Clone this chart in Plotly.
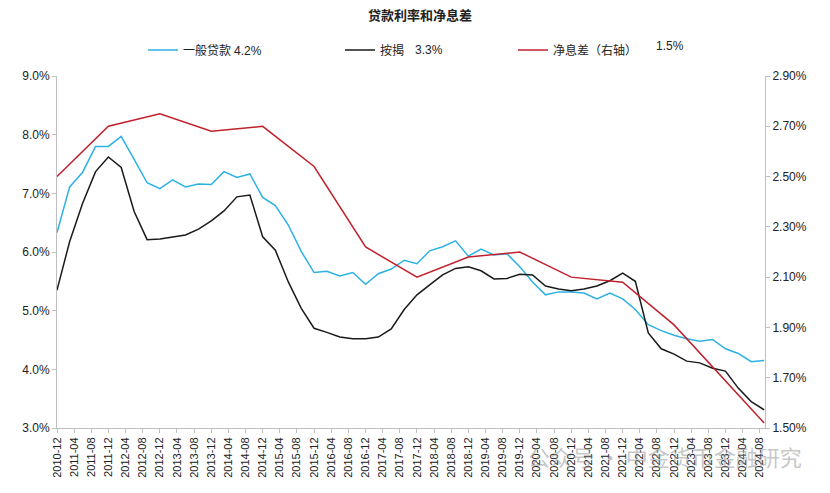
import plotly.graph_objects as go

# Quarterly dates for loan rates
q_dates = []
y, m = 2010, 12
for _ in range(56):
    q_dates.append(f"{y}-{m:02d}-01")
    m += 3
    if m > 12:
        m -= 12
        y += 1

general_loan = [6.33, 7.11, 7.36, 7.80, 7.80, 7.97, 7.58, 7.18, 7.08, 7.23, 7.11, 7.16,
                7.15, 7.37, 7.27, 7.33, 6.93, 6.79, 6.46, 6.01, 5.65, 5.67, 5.59, 5.65,
                5.45, 5.63, 5.71, 5.86, 5.80, 6.02, 6.09, 6.19, 5.93, 6.05, 5.95, 5.97,
                5.75, 5.49, 5.27, 5.32, 5.32, 5.30, 5.20, 5.30, 5.20, 5.02, 4.76, 4.66,
                4.58, 4.52, 4.48, 4.51, 4.35, 4.27, 4.13, 4.15]

mortgage = [5.35, 6.18, 6.83, 7.37, 7.62, 7.44, 6.69, 6.21, 6.22, 6.26, 6.29, 6.39,
            6.53, 6.70, 6.94, 6.97, 6.26, 6.03, 5.49, 5.04, 4.70, 4.63, 4.55, 4.52,
            4.52, 4.55, 4.69, 5.02, 5.27, 5.44, 5.61, 5.72, 5.75, 5.68, 5.54, 5.55,
            5.62, 5.61, 5.42, 5.37, 5.34, 5.37, 5.42, 5.51, 5.64, 5.50, 4.62, 4.35,
            4.26, 4.14, 4.11, 4.02, 3.97, 3.68, 3.45, 3.31]

nim_dates = ["2010-12-01", "2011-12-01", "2012-12-01", "2013-12-01", "2014-12-01",
             "2015-12-01", "2016-12-01", "2017-12-01", "2018-12-01", "2019-12-01",
             "2020-12-01", "2021-12-01", "2022-12-01", "2023-12-01", "2024-09-01"]
nim = [2.50, 2.70, 2.75, 2.68, 2.70, 2.54, 2.22, 2.10, 2.18, 2.20, 2.10, 2.08, 1.91, 1.69, 1.52]

names = ["一般贷款", "按揭", "净息差（右轴）"]
latest = ["4.2%", "3.3%", "1.5%"]
colors = ["#2cb1e4", "#1a1a1a", "#c0202b"]

FONT = "Liberation Sans, Arial, Noto Sans CJK SC"

fig = go.Figure()
fig.add_trace(go.Scatter(x=q_dates, y=general_loan, mode="lines", name=names[0],
                         line=dict(color=colors[0], width=1.5), legend="legend",
                         showlegend=True))
fig.add_trace(go.Scatter(x=q_dates, y=mortgage, mode="lines", name=names[1],
                         line=dict(color=colors[1], width=1.5), legend="legend2",
                         showlegend=True))
fig.add_trace(go.Scatter(x=nim_dates, y=nim, mode="lines", name=names[2],
                         line=dict(color=colors[2], width=1.5), yaxis="y2", legend="legend3",
                         showlegend=True))

OFF = 8  # page body margin
W, H = 830, 493
# target screen positions of plot area
SL, SR, ST, SB = 57, 765, 76, 428
L = SL - OFF
T = ST - OFF
R = W - (SR - OFF)
B = H - (SB - OFF)
pw = W - L - R
ph = H - T - B

def px_x(px):
    return (px - OFF - L) / pw

def px_y(py):
    return 1 + (T - (py - OFF)) / ph

leg_common = dict(orientation="h", bgcolor="rgba(0,0,0,0)", borderwidth=0,
                  font=dict(size=12, color="#222", family=FONT), yanchor="middle",
                  xanchor="left", itemwidth=30)

fig.update_layout(
    width=W, height=H,
    showlegend=True,
    margin=dict(l=L, r=R, t=T, b=B),
    paper_bgcolor="white", plot_bgcolor="white",
    font=dict(family=FONT, size=12, color="#222"),
    title=dict(text="<b>贷款利率和净息差</b>", x=(420 - OFF) / W, xref="container",
               xanchor="center", y=1 - (15 - OFF) / H, yref="container", yanchor="middle",
               font=dict(size=13, color="#222", family=FONT)),
    legend=dict(x=px_x(143), y=px_y(50), **leg_common),
    legend2=dict(x=px_x(340), y=px_y(50), **leg_common),
    legend3=dict(x=px_x(513), y=px_y(50), **leg_common),
    xaxis=dict(type="date", range=["2010-12-01", "2024-09-07"],
               tick0="2010-12-01", dtick="M4", tickformat="%Y-%m", tickangle=-90,
               showline=True, linecolor="#bfbfbf", linewidth=1,
               ticks="outside", ticklen=4, tickcolor="#bfbfbf",
               showgrid=False, zeroline=False,
               tickfont=dict(size=11, color="#222", family=FONT)),
    yaxis=dict(range=[3, 9], dtick=1, tick0=3, tickformat=".1f", ticksuffix="%",
               showline=True, linecolor="#bfbfbf", linewidth=1,
               ticks="outside", ticklen=4, tickcolor="#bfbfbf",
               showgrid=False, zeroline=False,
               tickfont=dict(size=12, color="#222", family=FONT)),
    yaxis2=dict(range=[1.5, 2.9], dtick=0.2, tick0=1.5, tickformat=".2f", ticksuffix="%",
                overlaying="y", side="right",
                showline=True, linecolor="#bfbfbf", linewidth=1,
                ticks="outside", ticklen=4, tickcolor="#bfbfbf",
                showgrid=False, zeroline=False,
                tickfont=dict(size=12, color="#222", family=FONT)),
)

ann_pos = [(248, 51), (429, 50), (670, 46)]
for txt, (ax, ay) in zip(latest, ann_pos):
    fig.add_annotation(text=txt, x=px_x(ax), y=px_y(ay), xref="paper", yref="paper",
                       showarrow=False, xanchor="center", yanchor="middle",
                       font=dict(size=12, color="#222", family=FONT))

fig.add_annotation(text="公众号 · 中金货币金融研究", x=px_x(665), y=px_y(456),
                   xref="paper", yref="paper", showarrow=False,
                   xanchor="center", yanchor="middle",
                   font=dict(size=22, color="rgba(150,150,150,0.55)", family="Noto Sans CJK SC"))

fig.write_html("out.html")
